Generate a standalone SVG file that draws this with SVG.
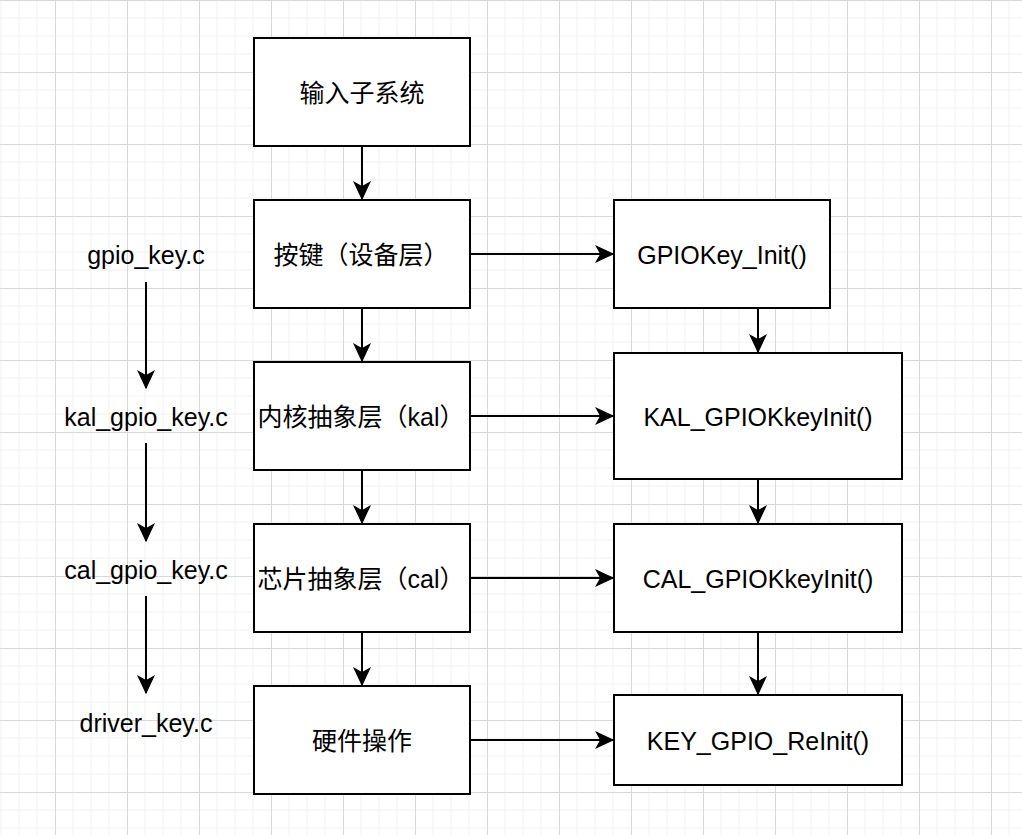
<svg xmlns="http://www.w3.org/2000/svg" width="1022" height="835" viewBox="0 0 1022 835">
  <defs>
    <pattern id="grid" x="55" y="0" width="72" height="72" patternUnits="userSpaceOnUse">
      <path d="M18,0V72M36,0V72M54,0V72M0,18H72M0,36H72M0,54H72" stroke="#f1f1f1" stroke-width="1" fill="none"/>
      <path d="M0.5,0V72M0,0.5H72" stroke="#d8d8d8" stroke-width="1" fill="none"/>
    </pattern>
    <marker id="arr" markerUnits="userSpaceOnUse" markerWidth="20" markerHeight="20" viewBox="-16 -8 18 16" refX="0" refY="0" orient="auto">
      <path d="M0,0 L-15,-7 L-11,0 L-15,7 Z" fill="#000" stroke="#000" stroke-width="1" stroke-linejoin="miter"/>
    </marker>
  </defs>
  <style>
    .box { fill: #ffffff; stroke: #000000; stroke-width: 2; }
    .lbl { font-family: "Liberation Sans", "Noto Sans CJK SC", sans-serif; font-size: 25px; fill: #000000; text-anchor: middle; }
    .edge { stroke: #000000; stroke-width: 2; fill: none; marker-end: url(#arr); }
  </style>
  <rect x="0" y="0" width="1022" height="835" fill="#ffffff"/>
  <rect x="0" y="0" width="1022" height="835" fill="url(#grid)"/>

  <g id="connectors">
    <path class="edge" d="M362,146 V199"/>
    <path class="edge" d="M362,308 V361"/>
    <path class="edge" d="M362,470 V523"/>
    <path class="edge" d="M362,632 V685"/>
    <path class="edge" d="M758,308 V352"/>
    <path class="edge" d="M758,479 V523"/>
    <path class="edge" d="M758,632 V694"/>
    <path class="edge" d="M470,254 H613"/>
    <path class="edge" d="M470,416 H613"/>
    <path class="edge" d="M470,578 H613"/>
    <path class="edge" d="M470,740 H613"/>
    <path class="edge" d="M146,282 V388"/>
    <path class="edge" d="M146,443 V541"/>
    <path class="edge" d="M146,596 V693"/>
  </g>

  <g id="input-subsystem">
    <rect class="box" x="254" y="38" width="216" height="108"/>
    <text class="lbl" x="362" y="102">输入子系统</text>
  </g>
  <g id="device-layer">
    <rect class="box" x="254" y="200" width="216" height="108"/>
    <text class="lbl" x="361" y="264">按键（设备层）</text>
  </g>
  <g id="kal-layer">
    <rect class="box" x="254" y="362" width="216" height="108"/>
    <text class="lbl" x="361" y="426">内核抽象层（kal）</text>
  </g>
  <g id="cal-layer">
    <rect class="box" x="254" y="524" width="216" height="108"/>
    <text class="lbl" x="361" y="588">芯片抽象层（cal）</text>
  </g>
  <g id="hardware">
    <rect class="box" x="254" y="686" width="216" height="108"/>
    <text class="lbl" x="362" y="750">硬件操作</text>
  </g>

  <g id="gpiokey-init">
    <rect class="box" x="614" y="200" width="216" height="108"/>
    <text class="lbl" x="722" y="264">GPIOKey_Init()</text>
  </g>
  <g id="kal-init">
    <rect class="box" x="614" y="353" width="288" height="126"/>
    <text class="lbl" x="758" y="426">KAL_GPIOKkeyInit()</text>
  </g>
  <g id="cal-init">
    <rect class="box" x="614" y="524" width="288" height="108"/>
    <text class="lbl" x="758" y="588">CAL_GPIOKkeyInit()</text>
  </g>
  <g id="key-reinit">
    <rect class="box" x="614" y="695" width="288" height="90"/>
    <text class="lbl" x="758" y="750">KEY_GPIO_ReInit()</text>
  </g>

  <g id="file-gpio-key">
    <text class="lbl" x="146" y="264">gpio_key.c</text>
  </g>
  <g id="file-kal-gpio-key">
    <text class="lbl" x="146" y="426">kal_gpio_key.c</text>
  </g>
  <g id="file-cal-gpio-key">
    <text class="lbl" x="146" y="579">cal_gpio_key.c</text>
  </g>
  <g id="file-driver-key">
    <text class="lbl" x="146" y="732">driver_key.c</text>
  </g>
</svg>
